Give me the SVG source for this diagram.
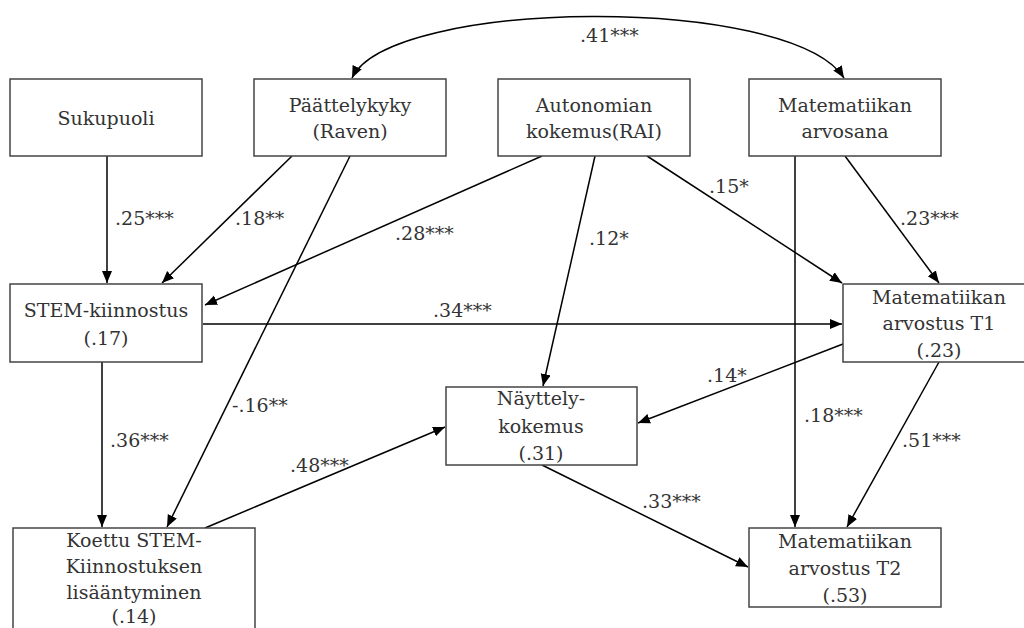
<svg xmlns="http://www.w3.org/2000/svg" width="1024" height="628" viewBox="0 0 1024 628">
<defs>
<marker id="ah" markerUnits="userSpaceOnUse" markerWidth="13" markerHeight="11" refX="12" refY="5" orient="auto-start-reverse" viewBox="0 0 13 11">
<path d="M0,0 L12,5 L0,10 z" fill="#000"/>
</marker>
<style>
rect.box{fill:#fff;stroke:#444;stroke-width:1.5}
text{font-family:"DejaVu Serif","Liberation Serif",serif;font-size:19px;fill:#333;text-anchor:middle}
text.lb{text-anchor:start}
.c line,.c path{stroke:#000;stroke-width:1.5;fill:none;marker-end:url(#ah)}
</style>
</defs>
<rect width="1024" height="628" fill="#fff"/>
<g class="c" id="connectors">
<path d="M352,78 C390,-2 790,-6 844,78" style="marker-start:url(#ah)"/>
<line x1="107" y1="156" x2="107" y2="283"/>
<line x1="292" y1="156" x2="162" y2="283"/>
<line x1="350" y1="156" x2="167" y2="527"/>
<line x1="542" y1="156" x2="205" y2="305"/>
<line x1="595" y1="156" x2="543" y2="386"/>
<line x1="647" y1="156" x2="842" y2="283"/>
<line x1="845" y1="156" x2="939" y2="283"/>
<line x1="795" y1="156" x2="795" y2="527"/>
<line x1="203" y1="324" x2="842" y2="324"/>
<line x1="843" y1="344" x2="638" y2="423"/>
<line x1="939" y1="362" x2="847" y2="527"/>
<line x1="102" y1="362" x2="102" y2="527"/>
<line x1="205" y1="528" x2="445" y2="427"/>
<line x1="542" y1="465" x2="748" y2="567"/>
</g>
<g id="labels">
<text class="lb" x="580" y="42">.41***</text>
<text class="lb" x="115" y="225">.25***</text>
<text class="lb" x="235" y="225">.18**</text>
<text class="lb" x="395" y="240">.28***</text>
<text class="lb" x="589" y="245">.12*</text>
<text class="lb" x="709" y="193">.15*</text>
<text class="lb" x="900" y="225">.23***</text>
<text class="lb" x="433" y="317">.34***</text>
<text class="lb" x="707" y="382">.14*</text>
<text class="lb" x="232" y="412">-.16**</text>
<text class="lb" x="110" y="447">.36***</text>
<text class="lb" x="804" y="422">.18***</text>
<text class="lb" x="902" y="447">.51***</text>
<text class="lb" x="290" y="472">.48***</text>
<text class="lb" x="642" y="508">.33***</text>
</g>
<g id="sukupuoli"><rect class="box" x="10" y="79" width="192" height="77"/><text x="106" y="125">Sukupuoli</text></g>
<g id="paattelykyky"><rect class="box" x="254" y="79" width="192" height="77"/><text x="350" y="112">Päättelykyky</text><text x="350" y="138">(Raven)</text></g>
<g id="autonomia"><rect class="box" x="498" y="79" width="192" height="77"/><text x="594" y="112">Autonomian</text><text x="594" y="138">kokemus(RAI)</text></g>
<g id="arvosana"><rect class="box" x="749" y="79" width="192" height="77"/><text x="845" y="112">Matematiikan</text><text x="845" y="138">arvosana</text></g>
<g id="stem"><rect class="box" x="10" y="284" width="192" height="78"/><text x="106" y="317">STEM-kiinnostus</text><text x="106" y="345">(.17)</text></g>
<g id="t1"><rect class="box" x="843" y="284" width="190" height="78"/><text x="939" y="304">Matematiikan</text><text x="939" y="330">arvostus T1</text><text x="939" y="357">(.23)</text></g>
<g id="nayttely"><rect class="box" x="446" y="387" width="191" height="78"/><text x="541" y="405">Näyttely-</text><text x="541" y="433">kokemus</text><text x="541" y="460">(.31)</text></g>
<g id="koettu"><rect class="box" x="13" y="528" width="242" height="110"/><text x="134" y="547">Koettu STEM-</text><text x="134" y="573">Kiinnostuksen</text><text x="134" y="599">lisääntyminen</text><text x="134" y="623">(.14)</text></g>
<g id="t2"><rect class="box" x="749" y="528" width="192" height="79"/><text x="845" y="548">Matematiikan</text><text x="845" y="575">arvostus T2</text><text x="845" y="602">(.53)</text></g>
</svg>
